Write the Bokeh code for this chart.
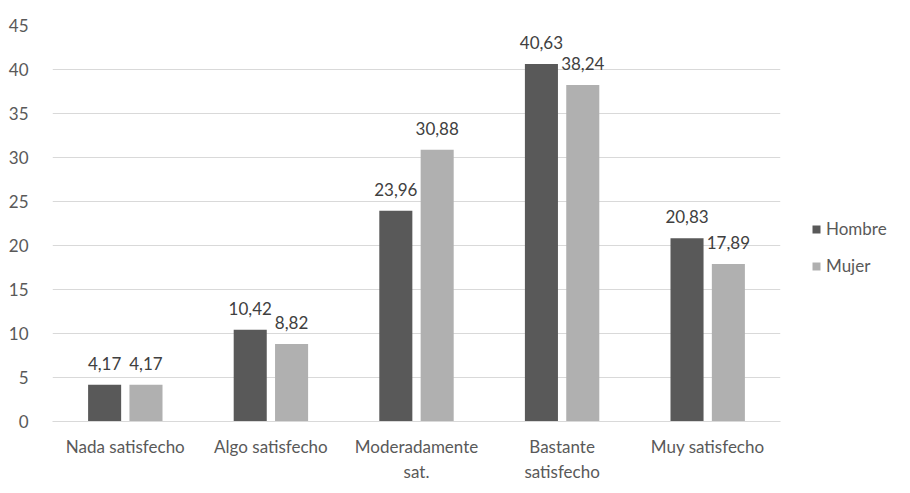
from bokeh.plotting import figure
from bokeh.models import ColumnDataSource, Legend, LegendItem, FactorRange, LabelSet
from bokeh.transform import dodge
from bokeh.core.properties import value
from bokeh.embed import file_html
from bokeh.resources import INLINE

categories = ["Nada satisfecho", "Algo satisfecho", "Moderadamente\nsat.", "Bastante\nsatisfecho", "Muy satisfecho"]
hombre = [4.17, 10.42, 23.96, 40.63, 20.83]
mujer = [4.17, 8.82, 30.88, 38.24, 17.89]
series_names = ["Hombre", "Mujer"]
y_ticks = [0, 5, 10, 15, 20, 25, 30, 35, 40, 45]

FONT = "Lato"
TXT = "#595959"
FS = "17px"

def fmt(v):
    return f"{v:.2f}".replace(".", ",")

src = ColumnDataSource(dict(
    cat=categories,
    hombre=hombre,
    mujer=mujer,
    hl=[fmt(v) for v in hombre],
    ml=[fmt(v) for v in mujer],
))

p = figure(frame_width=728, frame_height=396, x_range=FactorRange(*categories), y_range=(0, 45),
           output_backend="svg", toolbar_location=None,
           min_border_left=52, min_border_right=114, min_border_top=25, min_border_bottom=56)

r1 = p.vbar(x=dodge("cat", -0.142, range=p.x_range), top="hombre", width=0.227,
            source=src, fill_color="#595959", line_color=None)
r2 = p.vbar(x=dodge("cat", 0.142, range=p.x_range), top="mujer", width=0.227,
            source=src, fill_color="#b0b0b0", line_color=None)

for xo, col, lc in [(-0.142, "hombre", "hl"), (0.142, "mujer", "ml")]:
    lab = LabelSet(x=dodge("cat", xo, range=p.x_range), y=col,
                   text=lc, source=src,
                   text_align="center", text_baseline="alphabetic", y_offset=15,
                   text_font=value(FONT), text_font_size=FS, text_color="#404040")
    p.add_layout(lab)

p.outline_line_color = None
p.xgrid.grid_line_color = None
p.ygrid.grid_line_color = "#d9d9d9"
p.ygrid.grid_line_width = 1
p.yaxis.ticker = y_ticks
p.yaxis.axis_line_color = None
p.yaxis.major_tick_line_color = None
p.yaxis.minor_tick_line_color = None
p.yaxis.major_label_standoff = 18
p.xaxis.axis_line_color = "#d9d9d9"
p.xaxis.major_tick_line_color = None
p.xaxis.major_label_standoff = 8
for ax in (p.xaxis, p.yaxis):
    ax.major_label_text_font = FONT
    ax.major_label_text_font_size = FS
    ax.major_label_text_color = TXT

legend = Legend(items=[LegendItem(label=series_names[0], renderers=[r1]),
                       LegendItem(label=series_names[1], renderers=[r2])],
                location=(31, 145), orientation="vertical", border_line_color=None,
                glyph_width=10, glyph_height=10, spacing=16, padding=10, margin=0,
                label_text_font=FONT, label_text_font_size=FS, label_text_color=TXT,
                background_fill_alpha=0)
p.add_layout(legend, "right")

open("out.html", "w").write(file_html(p, INLINE))
